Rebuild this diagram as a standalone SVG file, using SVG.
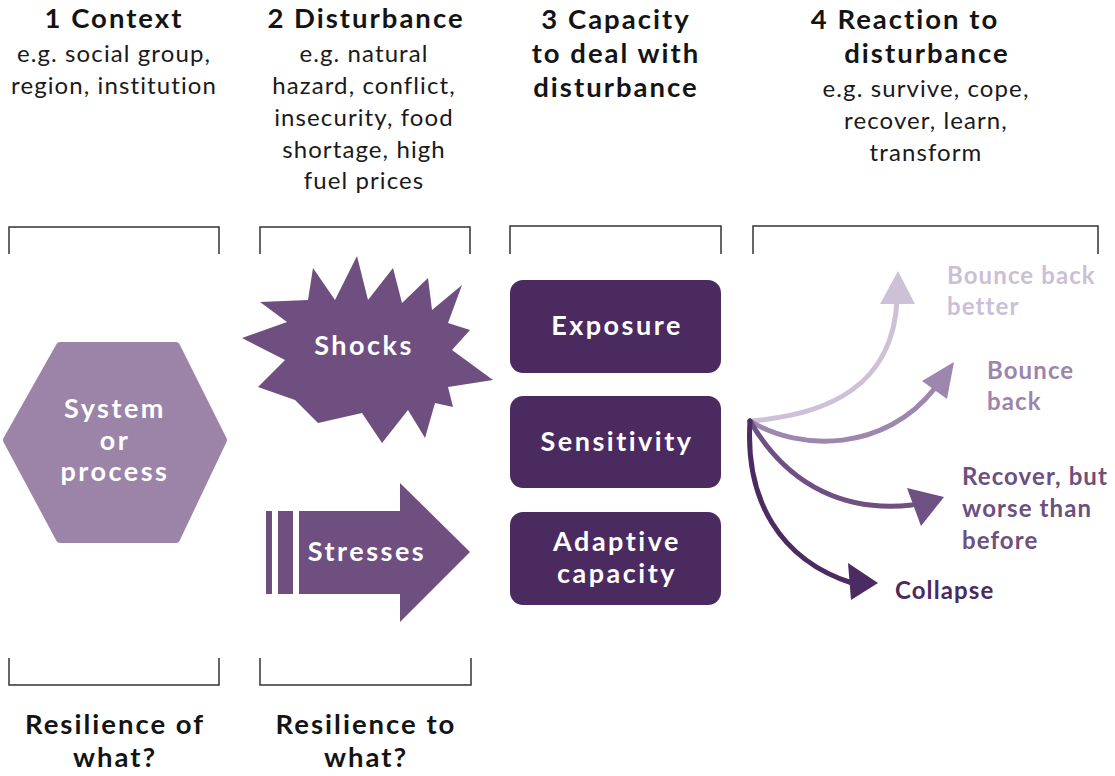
<svg xmlns="http://www.w3.org/2000/svg" width="1115" height="776" viewBox="0 0 1115 776">
<style>
.h{font-family:Lato,"Noto Sans","Liberation Sans",sans-serif;font-weight:700;font-size:27.5px;letter-spacing:2px;fill:#141414;text-anchor:middle}
.s{font-family:Lato,"Noto Sans","Liberation Sans",sans-serif;font-weight:400;font-size:24px;letter-spacing:1.1px;fill:#1a1a1a;text-anchor:middle}
.w{font-family:Lato,"Noto Sans","Liberation Sans",sans-serif;font-weight:700;font-size:27px;letter-spacing:2.5px;fill:#ffffff;text-anchor:middle}
.o{font-family:Lato,"Noto Sans","Liberation Sans",sans-serif;font-weight:700;font-size:24px;letter-spacing:1.1px}
.br{fill:none;stroke:#333;stroke-width:1.5}
.box{fill:#4b2a60}
.c{fill:none;stroke-width:5;stroke-linecap:round}
</style>
<rect width="1115" height="776" fill="#ffffff"/>

<g id="headers">
<text class="h" x="114" y="28">1 Context</text>
<text class="s" x="114" y="62">e.g. social group,</text>
<text class="s" x="114" y="94">region, institution</text>
<text class="h" x="366" y="28">2 Disturbance</text>
<text class="s" x="364" y="62">e.g. natural</text>
<text class="s" x="364" y="94">hazard, conflict,</text>
<text class="s" x="364" y="126">insecurity, food</text>
<text class="s" x="364" y="158">shortage, high</text>
<text class="s" x="364" y="189">fuel prices</text>
<text class="h" x="616" y="29">3 Capacity</text>
<text class="h" x="616" y="63">to deal with</text>
<text class="h" x="616" y="97">disturbance</text>
<text class="h" x="905" y="29">4 Reaction to</text>
<text class="h" x="927" y="63">disturbance</text>
<text class="s" x="926" y="97">e.g. survive, cope,</text>
<text class="s" x="926" y="129">recover, learn,</text>
<text class="s" x="926" y="161">transform</text>
</g>

<g id="brackets">
<path class="br" d="M9,254 V227 H219 V254"/>
<path class="br" d="M260,254 V227 H470 V254"/>
<path class="br" d="M510,254 V226 H721 V254"/>
<path class="br" d="M753,254 V226 H1098 V254"/>
<path class="br" d="M9,658 V685 H219 V658"/>
<path class="br" d="M260,658 V685 H471 V658"/>
</g>

<g id="system">
<polygon points="7,440 60,346 176,346 223,440 176,539 60,539" fill="#9b84a8" stroke="#9b84a8" stroke-width="8" stroke-linejoin="round"/>
<text class="w" x="115" y="418">System</text>
<text class="w" x="115" y="450">or</text>
<text class="w" x="115" y="481">process</text>
</g>

<g id="shocks">
<polygon fill="#6e4f7f" points="260,302 308,300 313,268 335,300 357,256 368,300 393,268 402,303 428,278 432,310 462,285 448,323 470,330 452,350 493,380 448,387 453,407 435,403 425,438 408,410 382,443 362,413 318,423 295,400 258,387 285,360 242,338 287,322"/>
<text class="w" x="364" y="355">Shocks</text>
</g>

<g id="stresses">
<rect x="266" y="511" width="6" height="83" fill="#6e4f7f"/>
<rect x="278" y="511" width="15" height="83" fill="#6e4f7f"/>
<polygon fill="#6e4f7f" points="299,511 400,511 400,483 470,552 400,622 400,594 299,594"/>
<text class="w" x="367" y="561">Stresses</text>
</g>

<g id="exposure">
<rect class="box" x="510" y="280" width="211" height="93" rx="13"/>
<text class="w" x="617" y="335">Exposure</text>
</g>
<g id="sensitivity">
<rect class="box" x="510" y="396" width="211" height="92" rx="13"/>
<text class="w" x="617" y="451">Sensitivity</text>
</g>
<g id="adaptive">
<rect class="box" x="510" y="512" width="211" height="93" rx="13"/>
<text class="w" x="617" y="551">Adaptive</text>
<text class="w" x="617" y="583">capacity</text>
</g>

<g id="connectors">
<path class="c" stroke="#cdc1d7" d="M750,421 C830,415 893,385 897,300"/>
<polygon fill="#cdc1d7" points="898,271 880,304 915,304"/>
<path class="c" stroke="#9d87ae" d="M750,421 C800,452 885,452 935,388"/>
<polygon fill="#9d87ae" points="954,362 922,381 947,399"/>
<path class="c" stroke="#6e5083" d="M750,421 C790,490 850,512 912,505"/>
<polygon fill="#6e5083" points="944,497 907,488 921,526"/>
<path class="c" stroke="#4b2b62" d="M750,421 C745,500 780,560 852,583"/>
<polygon fill="#4b2b62" points="878,583 848,563 851,600"/>
</g>

<g id="outcomes">
<text class="o" fill="#cbbfd6" x="947" y="284">Bounce back</text>
<text class="o" fill="#cbbfd6" x="947" y="315">better</text>
<text class="o" fill="#9c85ac" x="987" y="379">Bounce</text>
<text class="o" fill="#9c85ac" x="987" y="410">back</text>
<text class="o" fill="#6d4f80" x="962" y="485">Recover, but</text>
<text class="o" fill="#6d4f80" x="962" y="517">worse than</text>
<text class="o" fill="#6d4f80" x="962" y="549">before</text>
<text class="o" fill="#4b2a60" x="895" y="599">Collapse</text>
</g>

<g id="footers">
<text class="h" x="115" y="734">Resilience of</text>
<text class="h" x="115" y="767">what?</text>
<text class="h" x="366" y="734">Resilience to</text>
<text class="h" x="366" y="767">what?</text>
</g>
</svg>
